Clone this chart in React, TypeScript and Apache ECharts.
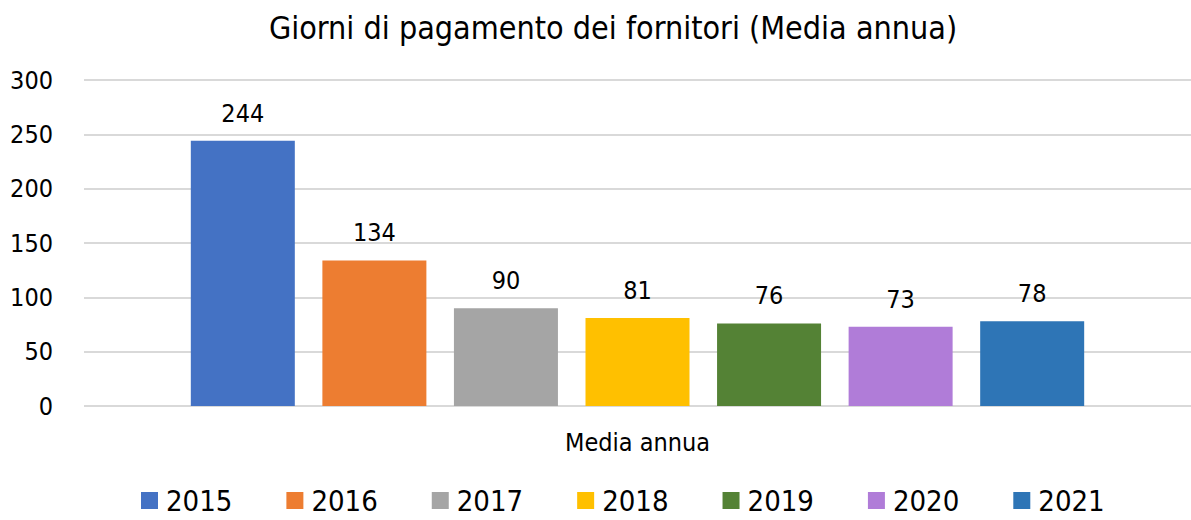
import React, { useEffect, useRef } from "react";
import * as echarts from "echarts";

const categories = ["Media annua"];
const years = ["2015", "2016", "2017", "2018", "2019", "2020", "2021"];
const values = [244, 134, 90, 81, 76, 73, 78];
const colors = ["#4472C4", "#ED7D31", "#A5A5A5", "#FFC000", "#548235", "#B07CD8", "#2E75B6"];
const yTicks = [0, 50, 100, 150, 200, 250, 300];

const FONT = "DejaVu Sans Condensed";

export default function App() {
  const ref = useRef<HTMLDivElement>(null);
  useEffect(() => {
    document.body.style.margin = "0";
    const chart = echarts.init(ref.current!, undefined, { renderer: "svg" });
    chart.setOption({
      animation: false,
      backgroundColor: "#ffffff",
      textStyle: { fontFamily: FONT },
      title: {
        text: "Giorni di pagamento dei fornitori (Media annua)",
        left: 608,
        textAlign: "center",
        top: 7,
        textStyle: { fontFamily: FONT, fontSize: 32, fontWeight: "normal", color: "#000" },
      },
      legend: {
        bottom: 5,
        left: 141,
        padding: [0, 0, 0, 0],
        itemWidth: 17,
        itemHeight: 17,
        itemGap: 54,
        icon: "rect",
        textStyle: { fontFamily: FONT, fontSize: 29, color: "#000", padding: [0, 0, 0, 3] },
        data: years,
      },
      grid: { left: 84, right: 0, top: 80, bottom: 114 },
      xAxis: {
        type: "category",
        data: categories,
        axisLine: { show: false },
        axisTick: { show: false },
        axisLabel: { fontFamily: FONT, fontSize: 25, color: "#000", margin: 24 },
      },
      yAxis: {
        type: "value",
        min: yTicks[0],
        max: yTicks[yTicks.length - 1],
        interval: 50,
        axisLine: { show: false },
        axisTick: { show: false },
        axisLabel: { fontFamily: FONT, fontSize: 25, color: "#000", margin: 31 },
        splitLine: { lineStyle: { color: "#D9D9D9", width: 2 } },
      },
      series: years.map((y, i) => ({
        name: y,
        type: "bar",
        data: [values[i]],
        barWidth: 104,
        barGap: "26.5%",
        itemStyle: { color: colors[i] },
        label: {
          show: true,
          position: "top",
          distance: 15,
          fontFamily: FONT,
          fontSize: 25,
          color: "#000",
        },
      })),
    });
    return () => chart.dispose();
  }, []);
  return <div ref={ref} style={{ width: 1191, height: 520 }} />;
}
